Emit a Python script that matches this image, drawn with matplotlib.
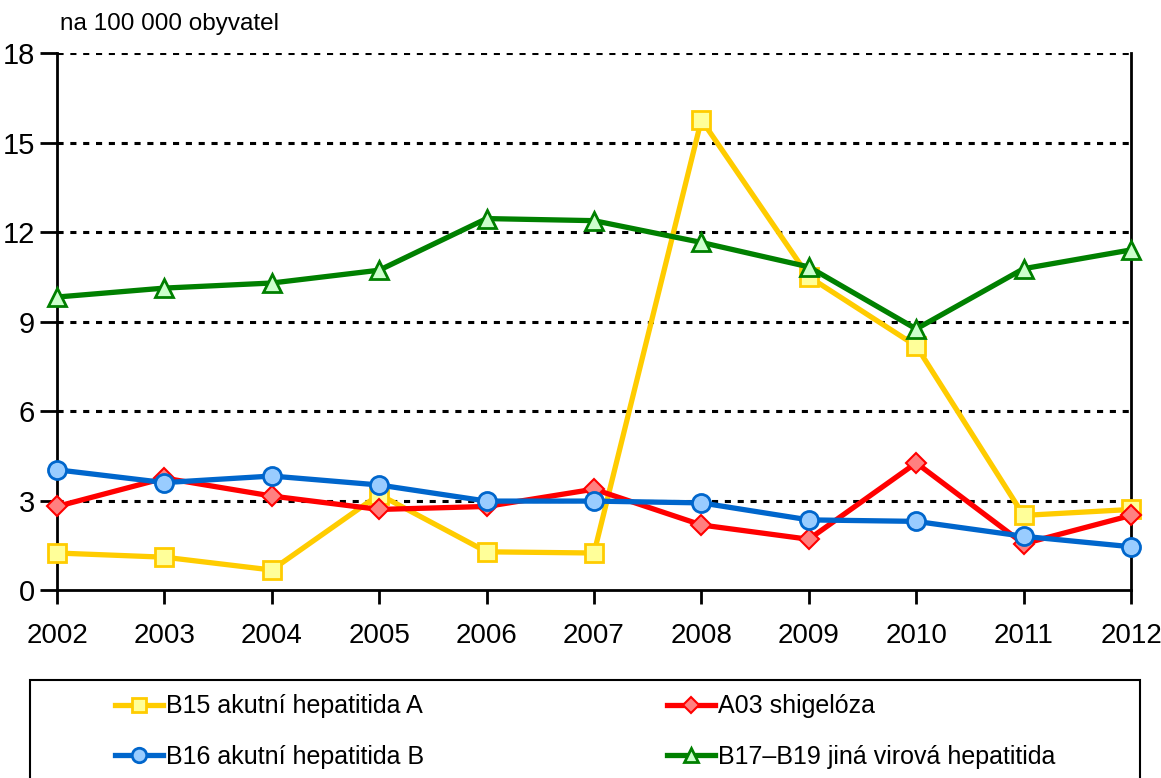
import matplotlib
matplotlib.use("Agg")
import matplotlib.pyplot as plt
from matplotlib.patches import Rectangle
import numpy as np

plt.rcParams['font.family'] = ['Liberation Sans', 'DejaVu Sans']

# data
years = [2002, 2003, 2004, 2005, 2006, 2007, 2008, 2009, 2010, 2011, 2012]
hep_a = [1.24, 1.10, 0.67, 3.20, 1.28, 1.24, 15.76, 10.50, 8.18, 2.50, 2.70]
shig = [2.80, 3.75, 3.15, 2.70, 2.80, 3.38, 2.18, 1.70, 4.26, 1.55, 2.50]
hep_b = [4.03, 3.60, 3.82, 3.52, 2.98, 2.98, 2.92, 2.35, 2.30, 1.80, 1.45]
hep_other = [9.82, 10.12, 10.29, 10.72, 12.45, 12.38, 11.65, 10.83, 8.75, 10.77, 11.40]
labels = ["B15 akutní hepatitida A", "A03 shigelóza",
          "B16 akutní hepatitida B", "B17–B19 jiná virová hepatitida"]
yticks = [0, 3, 6, 9, 12, 15, 18]

fig = plt.figure(figsize=(11.61, 7.78), dpi=100)
ax = fig.add_axes([57/1161, 1-590/778, (1131-57)/1161, (590-53)/778])

l1, = ax.plot(years, hep_a, color='#FFCC00', lw=3.8, marker='s', ms=12.5,
              mfc='#FFFF99', mec='#FFCC00', mew=2, zorder=3)
l2, = ax.plot(years, shig, color='#FF0000', lw=3.8, marker='D', ms=10.5,
              mfc='#FF8080', mec='#FF0000', mew=1.5, zorder=4)
l3, = ax.plot(years, hep_b, color='#0066CC', lw=3.8, marker='o', ms=13,
              mfc='#99CCFF', mec='#0066CC', mew=2, zorder=5)
l4, = ax.plot(years, hep_other, color='#008000', lw=3.8, marker='^', ms=13,
              mfc='#CCFFCC', mec='#008000', mew=2, zorder=6)

ax.set_xlim(2002, 2012)
ax.set_ylim(0, 18)
ax.set_xticks(years)
ax.set_yticks(yticks)
for v in yticks[1:]:
    ax.axhline(v, color='black', lw=2.2, linestyle=(0, (2, 2.2)), zorder=1)

ax.spines['top'].set_visible(False)
for s in ['left', 'bottom', 'right']:
    ax.spines[s].set_linewidth(2)
ax.tick_params(axis='both', direction='out', width=2, colors='black')
ax.tick_params(axis='y', length=12, pad=4, labelsize=21)
ax.tick_params(axis='x', length=10, pad=14, labelsize=20)
for l in (l1, l2, l3, l4):
    l.set_clip_on(False)

fig.text(60/1161, 1-24/778, "na 100 000 obyvatel", fontsize=17.5, va='center', ha='left')

# legend box
fig.patches.append(Rectangle((30/1161, -0.05), (1140-30)/1161, 0.05+1-680/778,
                             transform=fig.transFigure, fill=False,
                             edgecolor='black', lw=1.5))
leg_kw = dict(loc='upper left', frameon=False, fontsize=18, handlelength=1.95,
              handletextpad=0.1, labelspacing=1.05, markerscale=0.8)
fig.legend([l1, l3], [labels[0], labels[2]],
           bbox_to_anchor=(92/1161, 1-672/778), **leg_kw)
fig.legend([l2, l4], [labels[1], labels[3]],
           bbox_to_anchor=(644/1161, 1-672/778), **leg_kw)

fig.savefig("out.png", dpi=100)
